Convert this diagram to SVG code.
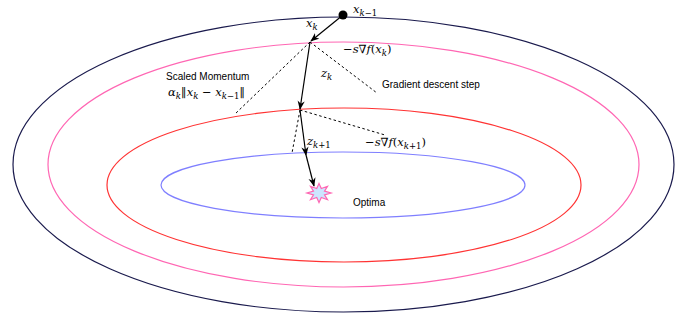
<svg xmlns="http://www.w3.org/2000/svg" width="695" height="320" viewBox="0 0 695 320">
<defs>
<marker id="arr" viewBox="0 0 10 8" refX="9" refY="4" markerWidth="9" markerHeight="8" markerUnits="userSpaceOnUse" orient="auto">
<path d="M0,0 L10,4 L0,8 L3,4 Z" fill="#000"/>
</marker>
</defs>
<style>
.c{fill:none;stroke-width:1.2}
.s{stroke:#000;stroke-width:1.2;fill:none}
.d{stroke:#000;stroke-width:1;fill:none;stroke-dasharray:2.5 2.5}
.t{font-family:"Liberation Sans",Arial,sans-serif;font-size:10px;fill:#000}
.m{font-family:"DejaVu Serif",serif;font-size:11.5px;fill:#000}
.i{font-style:italic}
.sub{font-size:8.5px}
.n{font-family:"DejaVu Sans",sans-serif}
</style>
<g id="contours">
<ellipse id="outer" class="c" cx="343.5" cy="164.5" rx="330.5" ry="147.5" stroke="#1a1a4d"/>
<ellipse id="pink" class="c" cx="343.5" cy="164.5" rx="295.5" ry="122.5" stroke="#ff66b3"/>
<ellipse id="red" class="c" cx="344" cy="185" rx="237" ry="77" stroke="#ff3333"/>
<ellipse id="blue" class="c" cx="343" cy="185" rx="182" ry="33" stroke="#7f7fff"/>
</g>
<g id="connectors">
<line class="d" x1="310" y1="42" x2="235" y2="114"/>
<line class="d" x1="310" y1="42" x2="377" y2="93"/>
<line class="d" x1="300" y1="110" x2="292" y2="153"/>
<line class="d" x1="300" y1="110" x2="385" y2="135"/>
<line class="s" x1="343" y1="15" x2="311" y2="41" marker-end="url(#arr)"/>
<line class="s" x1="310" y1="42" x2="300" y2="109" marker-end="url(#arr)"/>
<line class="s" x1="300" y1="110" x2="306" y2="155" marker-end="url(#arr)"/>
<line class="s" x1="306" y1="155" x2="314" y2="186" marker-end="url(#arr)"/>
</g>
<g id="xkm1">
<circle cx="343" cy="15" r="4.5" fill="#000"/>
<text class="m i" x="353" y="13">x<tspan class="sub" dy="3">k</tspan><tspan class="sub" font-style="normal">−1</tspan></text>
</g>
<g id="xk">
<text class="m i" x="306" y="27">x<tspan class="sub" dy="3">k</tspan></text>
</g>
<g id="grad1">
<text class="m" x="343" y="53">−<tspan class="i">s</tspan>∇<tspan class="i">f</tspan>(<tspan class="i">x</tspan><tspan class="sub i" dy="3">k</tspan><tspan dy="-3">)</tspan></text>
</g>
<g id="zk">
<text class="m i" x="321" y="77">z<tspan class="sub" dy="3">k</tspan></text>
</g>
<g id="momentum">
<text class="t" x="166" y="80">Scaled Momentum</text>
<text class="m" x="168" y="96"><tspan class="i">α</tspan><tspan class="sub i" dy="3">k</tspan><tspan class="n" dy="-3">∥</tspan><tspan class="i">x</tspan><tspan class="sub i" dy="3">k</tspan><tspan dy="-3"> − </tspan><tspan class="i">x</tspan><tspan class="sub" dy="3"><tspan class="i">k</tspan>−1</tspan><tspan class="n" dy="-3">∥</tspan></text>
</g>
<g id="gdstep">
<text class="t" x="382" y="88">Gradient descent step</text>
</g>
<g id="zk1">
<text class="m i" x="307" y="145">z<tspan class="sub" dy="3">k</tspan><tspan class="sub" font-style="normal">+1</tspan></text>
</g>
<g id="grad2">
<text class="m" x="365" y="146">−<tspan class="i">s</tspan>∇<tspan class="i">f</tspan>(<tspan class="i">x</tspan><tspan class="sub" dy="3"><tspan class="i">k</tspan>+1</tspan><tspan dy="-3">)</tspan></text>
</g>
<g id="optima">
<path d="M319,183.5 L321.3,188.6 L327.5,186.3 L324.5,191.2 L331,193 L324.5,194.8 L327.5,199.7 L321.3,197.4 L319,202.5 L316.7,197.4 L310.5,199.7 L313.5,194.8 L307,193 L313.5,191.2 L310.5,186.3 L316.7,188.6 Z" fill="#cce5ff" stroke="#ff66b3" stroke-width="1.2"/>
<text class="t" x="353" y="206">Optima</text>
</g>
</svg>
